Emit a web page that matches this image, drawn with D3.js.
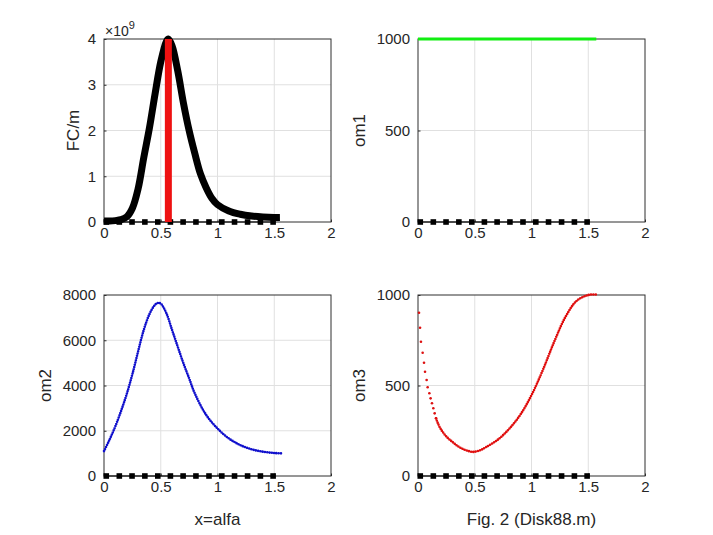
<!DOCTYPE html>
<html>
<head>
<meta charset="utf-8">
<script src="https://cdn.jsdelivr.net/npm/d3@7/dist/d3.min.js"></script>
<style>
  html, body { margin: 0; padding: 0; background: #fff; }
  svg { display: block; }
  text { font-family: "Liberation Sans", Arial, Helvetica, sans-serif; fill: #262626; }
</style>
</head>
<body>
<svg id="chart" width="713" height="535"></svg>
<script>
// ---------------- data ----------------
const xTicks = [0, 0.5, 1, 1.5, 2];
const fcTicks = [0, 1, 2, 3, 4];          // in units of 1e9
const om1Ticks = [0, 500, 1000];
const om2Ticks = [0, 2000, 4000, 6000, 8000];
const om3Ticks = [0, 500, 1000];

// black square markers on the zero line
const squareX = [0.02, 0.135, 0.247, 0.36, 0.474, 0.585, 0.697, 0.81, 0.925, 1.038, 1.15, 1.265, 1.378, 1.49];

// FC/m (x 1e9)
const fcAlfa = [0, 0.05, 0.1, 0.15, 0.2, 0.25, 0.3, 0.35, 0.4, 0.45, 0.5, 0.55, 0.567, 0.6, 0.65, 0.7, 0.75, 0.8, 0.85, 0.9, 0.95, 1.0, 1.1, 1.2, 1.3, 1.4, 1.5, 1.55];
const fcVal  = [0.02, 0.02, 0.03, 0.05, 0.11, 0.3, 0.72, 1.4, 2.05, 2.8, 3.5, 3.95, 4.0, 3.85, 3.3, 2.6, 2.0, 1.5, 1.05, 0.75, 0.52, 0.38, 0.24, 0.17, 0.13, 0.11, 0.1, 0.1];
const peakAlfa = 0.567;
const peakFC = 4.0;

// om1
const om1Alfa = [0, 1.5708];
const om1Val  = [1000, 1000];

// om2
const om2Alfa = [0, 0.05, 0.1, 0.15, 0.2, 0.25, 0.3, 0.35, 0.4, 0.45, 0.476, 0.5, 0.55, 0.6, 0.65, 0.7, 0.75, 0.8, 0.9, 1.0, 1.1, 1.2, 1.3, 1.4, 1.5, 1.57];
const om2Val  = [1100, 1620, 2200, 2870, 3620, 4500, 5500, 6450, 7150, 7570, 7650, 7620, 7190, 6450, 5710, 4980, 4320, 3650, 2700, 2100, 1660, 1370, 1180, 1075, 1015, 1000];

// om3
const om3Alfa = [0.009, 0.018, 0.026, 0.041, 0.053, 0.062, 0.076, 0.085, 0.1, 0.111, 0.123, 0.135, 0.147, 0.159, 0.175, 0.2, 0.25, 0.3, 0.35, 0.4, 0.45, 0.487, 0.55, 0.6, 0.7, 0.8, 0.9, 1.0, 1.1, 1.2, 1.3, 1.4, 1.5, 1.57];
const om3Val  = [902, 819, 742, 681, 626, 576, 530, 490, 457, 429, 402, 374, 346, 319, 292, 260, 218, 190, 165, 148, 137, 133, 143, 160, 199, 258, 337, 447, 586, 742, 880, 969, 1000, 1003];
const om3SparseCount = 14;   // first points appear as separate dots

// ---------------- layout ----------------
const svg = d3.select("#chart");
svg.append("rect").attr("width", 713).attr("height", 535).attr("fill", "#fff");

const panels = [
  { x0: 104, x1: 331, y0: 39,  y1: 222, yDom: [0, 4],    yT: fcTicks,  label: "FC/m", labX: 79 },
  { x0: 418, x1: 645, y0: 39,  y1: 222, yDom: [0, 1000], yT: om1Ticks, label: "om1",  labX: 365 },
  { x0: 104, x1: 331, y0: 295, y1: 476, yDom: [0, 8000], yT: om2Ticks, label: "om2",  labX: 51 },
  { x0: 418, x1: 645, y0: 295, y1: 476, yDom: [0, 1000], yT: om3Ticks, label: "om3",  labX: 365 }
];

const curve = d3.curveCatmullRom.alpha(0.5);

panels.forEach(p => {
  p.x = d3.scaleLinear().domain([0, 2]).range([p.x0, p.x1]);
  p.y = d3.scaleLinear().domain(p.yDom).range([p.y1, p.y0]);
  p.g = svg.append("g");
  // grid
  p.g.append("g").selectAll("line").data(xTicks.slice(1, -1)).join("line")
    .attr("x1", d => p.x(d)).attr("x2", d => p.x(d))
    .attr("y1", p.y0).attr("y2", p.y1)
    .attr("stroke", "#e0e0e0").attr("stroke-width", 1);
  p.g.append("g").selectAll("line").data(p.yT.slice(1, -1)).join("line")
    .attr("y1", d => p.y(d)).attr("y2", d => p.y(d))
    .attr("x1", p.x0).attr("x2", p.x1)
    .attr("stroke", "#e0e0e0").attr("stroke-width", 1);
  // box
  p.g.append("rect").attr("x", p.x0).attr("y", p.y0)
    .attr("width", p.x1 - p.x0).attr("height", p.y1 - p.y0)
    .attr("fill", "none").attr("stroke", "#2e2e2e").attr("stroke-width", 1);
  // axes
  const ax = p.g.append("g").attr("transform", `translate(0,${p.y1})`)
    .call(d3.axisBottom(p.x).tickValues(xTicks).tickSizeInner(-2.5).tickSizeOuter(0).tickPadding(5)
      .tickFormat(d => String(d)));
  const ay = p.g.append("g").attr("transform", `translate(${p.x0},0)`)
    .call(d3.axisLeft(p.y).tickValues(p.yT).tickSizeInner(-2.5).tickSizeOuter(0).tickPadding(8)
      .tickFormat(d => String(d)));
  [ax, ay].forEach(a => {
    a.select(".domain").remove();
    a.selectAll("line").attr("stroke", "#2e2e2e");
    a.selectAll("text").style("font-size", "15px").attr("fill", "#262626")
      .style("font-family", '"Liberation Sans", Arial, Helvetica, sans-serif');
  });
  // y label
  const cy = (p.y0 + p.y1) / 2;
  p.g.append("text").attr("transform", `translate(${p.labX},${cy}) rotate(-90)`)
    .attr("text-anchor", "middle").style("font-size", "17px").text(p.label);
});

// zero-line squares
function squares(p) {
  p.g.append("path")
    .attr("d", d3.line().x(d => p.x(d)).y(() => p.y(0))(squareX))
    .attr("stroke", "#000").attr("stroke-width", 1.2).attr("fill", "none");
  p.g.append("g").selectAll("rect").data(squareX).join("rect")
    .attr("x", d => p.x(d) - 2.8).attr("y", p.y(0) - 2.8)
    .attr("width", 5.6).attr("height", 5.6).attr("fill", "#000");
}

// Panel 1: FC/m
{
  const p = panels[0];
  squares(p);
  const pts = fcAlfa.map((a, i) => [a, fcVal[i]]);
  p.g.append("path")
    .attr("d", d3.line().x(d => p.x(d[0])).y(d => p.y(d[1])).curve(curve)(pts))
    .attr("fill", "none").attr("stroke", "#000").attr("stroke-width", 7)
    .attr("stroke-linejoin", "round");
  p.g.append("line")
    .attr("x1", p.x(peakAlfa)).attr("x2", p.x(peakAlfa))
    .attr("y1", p.y(0)).attr("y2", p.y(peakFC))
    .attr("stroke", "#ee1111").attr("stroke-width", 7);
  const t = p.g.append("text").attr("x", p.x0 + 1).attr("y", p.y0 - 3).style("font-size", "14px");
  t.append("tspan").text("\u00d710");
  t.append("tspan").attr("dy", -7).style("font-size", "11px").text("9");
}

// Panel 2: om1
{
  const p = panels[1];
  squares(p);
  const pts = om1Alfa.map((a, i) => [a, om1Val[i]]);
  p.g.append("path")
    .attr("d", d3.line().x(d => p.x(d[0])).y(d => p.y(d[1]))(pts))
    .attr("fill", "none").attr("stroke", "#11ee11").attr("stroke-width", 3);
}

// Panel 3: om2
{
  const p = panels[2];
  squares(p);
  const pts = om2Alfa.map((a, i) => [a, om2Val[i]]);
  p.g.append("path")
    .attr("d", d3.line().x(d => p.x(d[0])).y(d => p.y(d[1])).curve(curve)(pts))
    .attr("fill", "none").attr("stroke", "#1010cc").attr("stroke-width", 2.6)
    .attr("stroke-linecap", "round").attr("stroke-dasharray", "0 2.3");
}

// Panel 4: om3
{
  const p = panels[3];
  squares(p);
  const pts = om3Alfa.map((a, i) => [a, om3Val[i]]);
  p.g.append("g").selectAll("circle").data(pts.slice(0, om3SparseCount)).join("circle")
    .attr("cx", d => p.x(d[0])).attr("cy", d => p.y(d[1])).attr("r", 1.3)
    .attr("fill", "#dd1111");
  p.g.append("path")
    .attr("d", d3.line().x(d => p.x(d[0])).y(d => p.y(d[1])).curve(curve)(pts.slice(om3SparseCount - 1)))
    .attr("fill", "none").attr("stroke", "#e01010").attr("stroke-width", 2.6)
    .attr("stroke-linecap", "round").attr("stroke-dasharray", "0 2.3");
}

// x labels
svg.append("text").attr("x", 217.5).attr("y", 525).attr("text-anchor", "middle")
  .style("font-size", "17px").text("x=alfa");
svg.append("text").attr("x", 531.5).attr("y", 525).attr("text-anchor", "middle")
  .style("font-size", "17px").text("Fig. 2 (Disk88.m)");
</script>
</body>
</html>
